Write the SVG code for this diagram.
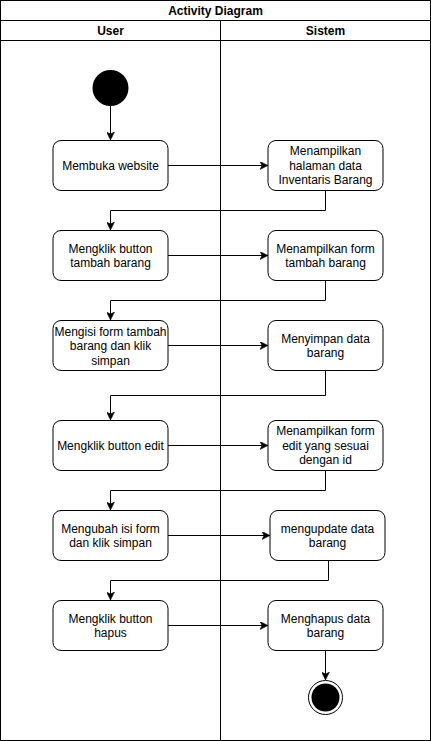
<svg xmlns="http://www.w3.org/2000/svg" width="431" height="741" viewBox="0 0 431 741">
<style>
.lane{fill:none;stroke:#000;stroke-width:1}
.node{fill:#fff;stroke:#000;stroke-width:1}
.t{font-family:"Liberation Sans",Arial,sans-serif;font-size:12px;fill:#000;text-anchor:middle}
.h{font-family:"Liberation Sans",Arial,sans-serif;font-size:12px;font-weight:bold;fill:#000;text-anchor:middle}
.c{fill:none;stroke:#000;stroke-width:1}
</style>
<defs>
<marker id="arr" viewBox="0 0 8 8" refX="8" refY="4" markerWidth="8" markerHeight="8" markerUnits="userSpaceOnUse" orient="auto">
<path d="M0,0 L8,4 L0,8 L2,4 Z" fill="#000" stroke="#000" stroke-width="0.5"/>
</marker>
</defs>
<rect width="431" height="741" fill="#fff"/>
<g id="pool">
<rect class="lane" x="0.5" y="0.5" width="430" height="740"/>
<line class="lane" x1="0.5" y1="20.5" x2="430.5" y2="20.5"/>
<line class="lane" x1="0.5" y1="40.5" x2="430.5" y2="40.5"/>
<line class="lane" x1="220.5" y1="20.5" x2="220.5" y2="740.5"/>
<text class="h" x="215.5" y="14.5">Activity Diagram</text>
<text class="h" x="110.5" y="34.5">User</text>
<text class="h" x="325.5" y="34.5">Sistem</text>
</g>
<g id="connectors">
<path class="c" d="M110.5,106 V140" marker-end="url(#arr)"/>
<path class="c" d="M168,165.5 H268" marker-end="url(#arr)"/>
<path class="c" d="M325.5,190 V210.5 H110.5 V230" marker-end="url(#arr)"/>
<path class="c" d="M168,255.5 H268" marker-end="url(#arr)"/>
<path class="c" d="M325.5,280 V300.5 H110.5 V320" marker-end="url(#arr)"/>
<path class="c" d="M168,345.5 H268" marker-end="url(#arr)"/>
<path class="c" d="M325.5,370 V395.5 H110.5 V420" marker-end="url(#arr)"/>
<path class="c" d="M168,445.5 H268" marker-end="url(#arr)"/>
<path class="c" d="M325.5,470 V490.5 H110.5 V510" marker-end="url(#arr)"/>
<path class="c" d="M168,535.5 H270" marker-end="url(#arr)"/>
<path class="c" d="M328.5,560 V580.5 H110.5 V600" marker-end="url(#arr)"/>
<path class="c" d="M168,625.5 H268" marker-end="url(#arr)"/>
<path class="c" d="M325.5,650 V680" marker-end="url(#arr)"/>
</g>
<g id="start">
<circle cx="110.5" cy="88" r="18" fill="#000"/>
</g>
<g id="n1">
<rect class="node" x="53" y="140.5" width="115" height="50" rx="8"/>
<text class="t" x="110.5" y="169.5">Membuka website</text>
</g>
<g id="s1">
<rect class="node" x="268" y="140.5" width="115" height="50" rx="8"/>
<text class="t" x="325.5" y="155">Menampilkan</text>
<text class="t" x="325.5" y="169.5">halaman data</text>
<text class="t" x="325.5" y="184">Inventaris Barang</text>
</g>
<g id="n2">
<rect class="node" x="53" y="230.5" width="115" height="50" rx="8"/>
<text class="t" x="110.5" y="252.5">Mengklik button</text>
<text class="t" x="110.5" y="267">tambah barang</text>
</g>
<g id="s2">
<rect class="node" x="268" y="230.5" width="115" height="50" rx="8"/>
<text class="t" x="325.5" y="252.5">Menampilkan form</text>
<text class="t" x="325.5" y="267">tambah barang</text>
</g>
<g id="n3">
<rect class="node" x="53" y="320.5" width="115" height="50" rx="8"/>
<text class="t" x="110.5" y="335.5">Mengisi form tambah</text>
<text class="t" x="110.5" y="350">barang dan klik</text>
<text class="t" x="110.5" y="364.5">simpan</text>
</g>
<g id="s3">
<rect class="node" x="268" y="320.5" width="115" height="50" rx="8"/>
<text class="t" x="325.5" y="342.5">Menyimpan data</text>
<text class="t" x="325.5" y="357">barang</text>
</g>
<g id="n4">
<rect class="node" x="53" y="420.5" width="115" height="50" rx="8"/>
<text class="t" x="110.5" y="449.5">Mengklik button edit</text>
</g>
<g id="s4">
<rect class="node" x="268" y="420.5" width="115" height="50" rx="8"/>
<text class="t" x="325.5" y="435">Menampilkan form</text>
<text class="t" x="325.5" y="449.5">edit yang sesuai</text>
<text class="t" x="325.5" y="464">dengan id</text>
</g>
<g id="n5">
<rect class="node" x="53" y="510.5" width="115" height="50" rx="8"/>
<text class="t" x="110.5" y="532.5">Mengubah isi form</text>
<text class="t" x="110.5" y="547">dan klik simpan</text>
</g>
<g id="s5">
<rect class="node" x="270" y="510.5" width="115" height="50" rx="8"/>
<text class="t" x="327.5" y="532.5">mengupdate data</text>
<text class="t" x="327.5" y="547">barang</text>
</g>
<g id="n6">
<rect class="node" x="53" y="600.5" width="115" height="50" rx="8"/>
<text class="t" x="110.5" y="622.5">Mengklik button</text>
<text class="t" x="110.5" y="637">hapus</text>
</g>
<g id="s6">
<rect class="node" x="268" y="600.5" width="115" height="50" rx="8"/>
<text class="t" x="325.5" y="622.5">Menghapus data</text>
<text class="t" x="325.5" y="637">barang</text>
</g>
<g id="end">
<circle cx="325.5" cy="697.5" r="17" fill="#fff" stroke="#000" stroke-width="1"/>
<circle cx="325.5" cy="697.5" r="14" fill="#000"/>
</g>
</svg>
